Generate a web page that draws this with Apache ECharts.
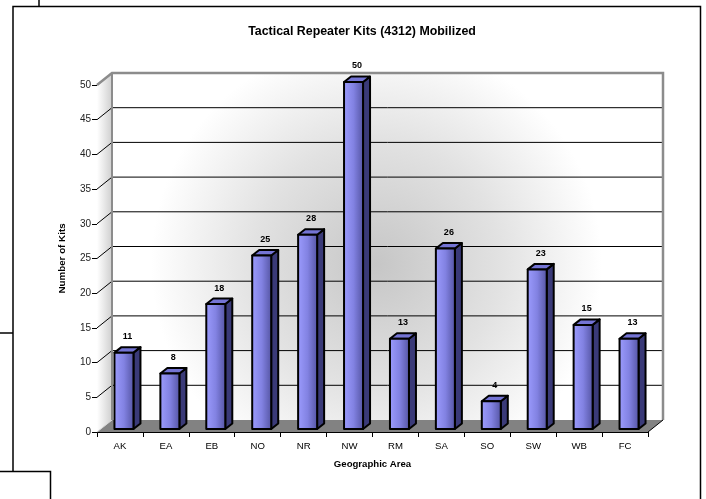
<!DOCTYPE html>
<html><head><meta charset="utf-8">
<script src="https://cdn.jsdelivr.net/npm/echarts/dist/echarts.min.js"></script>
<style>html,body{margin:0;padding:0;background:#fff}#c{width:706px;height:499px}</style>
</head><body><div id="c"></div>
<script>
// ---- data ----
const categories = ['AK','EA','EB','NO','NR','NW','RM','SA','SO','SW','WB','FC'];
const kits = [11, 8, 18, 25, 28, 50, 13, 26, 4, 23, 15, 13];
const yMin = 0, yMax = 50, yStep = 5;
const titleText = 'Tactical Repeater Kits (4312) Mobilized';
const xName = 'Geographic Area';
const yName = 'Number of Kits';

// ---- style constants ----
const FONT = '"Liberation Sans", Arial, sans-serif';
const DX = 15, DY = -12;          // back-wall depth offset
const BAR_W = 19, BAR_SX = 4, BAR_SY = -3, BAR_DX = 7, BAR_DY = -5.5;

const chart = echarts.init(document.getElementById('c'), null, {renderer: 'canvas'});

function renderFrame(params, api) {
  const bw = api.size([1, 0])[0];
  const n = categories.length;
  const xL = api.coord([0, yMin])[0] - bw / 2;
  const xR = api.coord([n - 1, yMin])[0] + bw / 2;
  const y0 = api.coord([0, yMin])[1];
  const yT = api.coord([0, yMax])[1];
  const ch = [];
  ch.push({type: 'rect', shape: {x: xL + DX, y: yT + DY, width: xR - xL, height: y0 - yT},
    style: {fill: {type: 'radial', x: 0.48, y: 0.55, r: 0.65, colorStops: [
      {offset: 0, color: '#c6c6c6'}, {offset: 0.55, color: '#e2e2e2'}, {offset: 1, color: '#ffffff'}]}}});
  ch.push({type: 'polygon', shape: {points: [[xL, yT], [xL + DX, yT + DY], [xL + DX, y0 + DY], [xL, y0]]},
    style: {fill: {type: 'linear', x: 0, y: 0, x2: 1, y2: 0, colorStops: [
      {offset: 0, color: '#ffffff'}, {offset: 1, color: '#cfcfcf'}]}}});
  ch.push({type: 'polygon', shape: {points: [[xL, y0], [xR, y0], [xR + DX, y0 + DY], [xL + DX, y0 + DY]]},
    style: {fill: '#828282'}});
  ch.push({type: 'line', shape: {x1: xL, y1: y0, x2: xL + DX, y2: y0 + DY}, style: {stroke: '#d8d8d8', lineWidth: 1}});
  for (let v = yMin + yStep; v < yMax; v += yStep) {
    const y = api.coord([0, v])[1];
    ch.push({type: 'polyline', shape: {points: [[xL, y], [xL + DX, y + DY], [xR + DX, y + DY]]},
      style: {stroke: '#000', lineWidth: 1, fill: null}});
  }
  ch.push({type: 'polyline', shape: {points: [[xL, yT], [xL + DX, yT + DY], [xR + DX, yT + DY], [xR + DX, y0 + DY]]},
    style: {stroke: '#8c8c8c', lineWidth: 2.5, fill: null}});
  ch.push({type: 'line', shape: {x1: xL + DX, y1: yT + DY, x2: xL + DX, y2: y0 + DY}, style: {stroke: '#8c8c8c', lineWidth: 2}});
  ch.push({type: 'line', shape: {x1: xR, y1: y0, x2: xR + DX, y2: y0 + DY}, style: {stroke: '#000', lineWidth: 1}});
  return {type: 'group', children: ch};
}

function renderBar(params, api) {
  const i = api.value(0), v = api.value(1);
  const top = api.coord([i, v]);
  const base = api.coord([i, yMin]);
  const fx = top[0] + BAR_SX - BAR_W / 2;
  const ty = top[1] + BAR_SY, by = base[1] + BAR_SY;
  const stroke = {stroke: '#000', lineWidth: 2, lineJoin: 'round'};
  return {type: 'group', children: [
    {type: 'polygon', shape: {points: [[fx + BAR_W, ty], [fx + BAR_W + BAR_DX, ty + BAR_DY], [fx + BAR_W + BAR_DX, by + BAR_DY], [fx + BAR_W, by]]},
      style: Object.assign({fill: '#3a3a78'}, stroke)},
    {type: 'polygon', shape: {points: [[fx, ty], [fx + BAR_W, ty], [fx + BAR_W + BAR_DX, ty + BAR_DY], [fx + BAR_DX, ty + BAR_DY]]},
      style: Object.assign({fill: '#7474d4'}, stroke)},
    {type: 'rect', shape: {x: fx, y: ty, width: BAR_W, height: by - ty},
      style: Object.assign({fill: {type: 'linear', x: 0, y: 0, x2: 1, y2: 0, colorStops: [
        {offset: 0, color: '#9d9dff'}, {offset: 0.5, color: '#8282e2'}, {offset: 1, color: '#5252a0'}]}}, stroke)},
    {type: 'text', style: {text: String(v), x: fx + BAR_W / 2 + BAR_DX / 2, y: ty + BAR_DY - 6,
      align: 'center', verticalAlign: 'bottom', font: 'bold 9px ' + FONT, fill: '#000'}}
  ]};
}

const option = {
  animation: false,
  backgroundColor: '#ffffff',
  textStyle: {fontFamily: FONT},
  title: {text: titleText, left: 357, top: 21, textAlign: 'center',
    textStyle: {fontSize: 12.4, fontWeight: 'bold', color: '#000', fontFamily: FONT}},
  grid: {left: 97, top: 85, width: 551, height: 347, containLabel: false},
  xAxis: {type: 'category', data: categories, boundaryGap: true,
    name: xName, nameLocation: 'middle', nameGap: 27,
    nameTextStyle: {fontSize: 9.6, fontWeight: 'bold', color: '#000', fontFamily: FONT},
    axisLine: {lineStyle: {color: '#000', width: 1}},
    axisTick: {show: true, length: 5, lineStyle: {color: '#000'}},
    axisLabel: {fontSize: 9.6, color: '#000', margin: 9, fontFamily: FONT},
    splitLine: {show: false}},
  yAxis: {type: 'value', min: yMin, max: yMax, interval: yStep,
    name: yName, nameLocation: 'middle', nameGap: 30, nameRotate: 90,
    nameTextStyle: {fontSize: 9.8, fontWeight: 'bold', color: '#000', fontFamily: FONT},
    axisLine: {show: true, lineStyle: {color: '#000', width: 1}},
    axisTick: {show: true, length: 5, lineStyle: {color: '#000'}},
    axisLabel: {fontSize: 10, color: '#222', margin: 6, fontFamily: FONT},
    splitLine: {show: false}},
  graphic: [
    {type: 'line', shape: {x1: 39, y1: 0, x2: 39, y2: 6.5}, style: {stroke: '#000', lineWidth: 1.5}},
    {type: 'polyline', shape: {points: [[13, 471], [13, 6.5], [700.5, 6.5], [700.5, 499]]}, style: {stroke: '#000', lineWidth: 1.5, fill: null}},
    {type: 'line', shape: {x1: 0, y1: 333, x2: 13, y2: 333}, style: {stroke: '#000', lineWidth: 1.5}},
    {type: 'polyline', shape: {points: [[0, 471.5], [50.5, 471.5], [50.5, 499]]}, style: {stroke: '#000', lineWidth: 1.5, fill: null}}
  ],
  series: [
    {type: 'custom', name: 'frame', renderItem: renderFrame, data: [[0, yMin]], z: 1, clip: false, silent: true},
    {type: 'custom', name: 'Kits', renderItem: renderBar, data: kits.map((v, i) => [i, v]), z: 3, clip: false}
  ]
};
chart.setOption(option);
</script></body></html>
